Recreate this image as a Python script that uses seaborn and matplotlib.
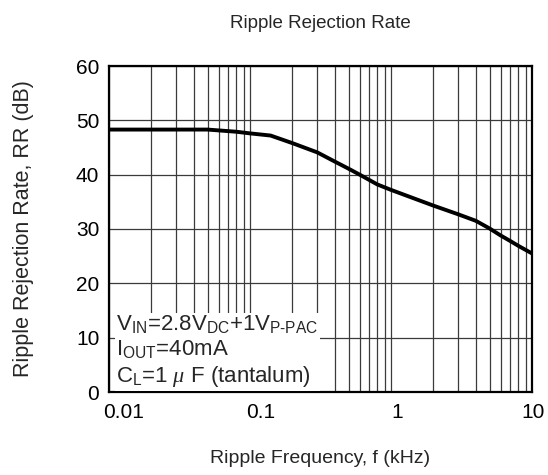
import numpy as np
import pandas as pd
import matplotlib
matplotlib.use('Agg')
import matplotlib.pyplot as plt
from matplotlib.ticker import LogLocator, FixedLocator, NullFormatter
from matplotlib.transforms import ScaledTranslation
import seaborn as sns

# Curve (frequency in kHz, RR in dB)
freq_khz = [0.01, 0.02, 0.05, 0.08, 0.1, 0.14, 0.2, 0.3, 0.4, 0.5, 0.6,
            0.8, 1, 2, 3, 4, 5, 6, 7, 8, 10]
rr_db = [48.3, 48.3, 48.3, 47.9, 47.6, 47.2, 45.8, 44.1, 42.4, 41.1, 40.0,
         38.2, 37.2, 34.3, 32.7, 31.5, 30.1, 28.8, 27.8, 26.9, 25.5]

x_ticks = [0.01, 0.1, 1, 10]
x_tick_labels = ['0.01', '0.1', '1', '10']
y_ticks = [0, 10, 20, 30, 40, 50, 60]

df = pd.DataFrame({'f': freq_khz, 'rr': rr_db})

sns.set_theme(style='white')
plt.rcParams['font.family'] = ['Liberation Sans', 'DejaVu Sans']
plt.rcParams['mathtext.fontset'] = 'custom'
plt.rcParams['mathtext.rm'] = 'Liberation Sans'
plt.rcParams['mathtext.it'] = 'Liberation Serif:italic'

fig = plt.figure(figsize=(5.48, 4.75), dpi=100)
ax = fig.add_axes([109 / 548, 1 - 392 / 475, 423 / 548, 326 / 475])

sns.lineplot(data=df, x='f', y='rr', ax=ax, color='black', linewidth=2.8)

ax.set_xscale('log')
ax.set_xlim(0.01, 10)
ax.set_ylim(0, 60)
ax.xaxis.set_major_locator(FixedLocator(x_ticks))
ax.set_xticklabels(x_tick_labels)
ax.xaxis.set_minor_locator(LogLocator(base=10, subs=np.arange(2, 10)))
ax.xaxis.set_minor_formatter(NullFormatter())
ax.set_yticks(y_ticks)

ax.grid(True, which='both', axis='x', color='#3a3a3a', linewidth=0.9)
ax.grid(True, which='major', axis='y', color='#3a3a3a', linewidth=0.9)

for s in ax.spines.values():
    s.set_color('black')
    s.set_linewidth(1.6)

ax.tick_params(axis='x', which='both', direction='in', length=4, width=0.8,
               colors='black', labelsize=15, pad=8)
ax.tick_params(axis='y', which='major', direction='out', length=0,
               labelsize=15, pad=7, colors='black')

# the original's tick labels sit a little right of their grid lines
for lab, dx in zip(ax.get_xticklabels(), [15, 11, 6, 1]):
    lab.set_transform(lab.get_transform() + ScaledTranslation(dx / 100, 0, fig.dpi_scale_trans))

ax.set_title('Ripple Rejection Rate', fontsize=13.5, pad=27)
ax.set_xlabel('Ripple Frequency, f (kHz)', fontsize=14, labelpad=20)
ax.set_ylabel('Ripple Rejection Rate, RR (dB)', fontsize=15.5, labelpad=30)

# Condition box
cond_lines = [r'V$_{\mathrm{IN}}$=2.8V$_{\mathrm{DC}}$+1V$_{\mathrm{P\text{-}PAC}}$',
              r'I$_{\mathrm{OUT}}$=40mA',
              r'C$_{\mathrm{L}}$=1 $\mu$ F (tantalum)']
ax.text(0.0113, 1.8, '\n'.join(cond_lines), transform=ax.transData,
        fontsize=16, va='baseline', ha='left', linespacing=1.22,
        bbox=dict(facecolor='white', edgecolor='none', pad=1))

fig.savefig('out.png', dpi=100)
